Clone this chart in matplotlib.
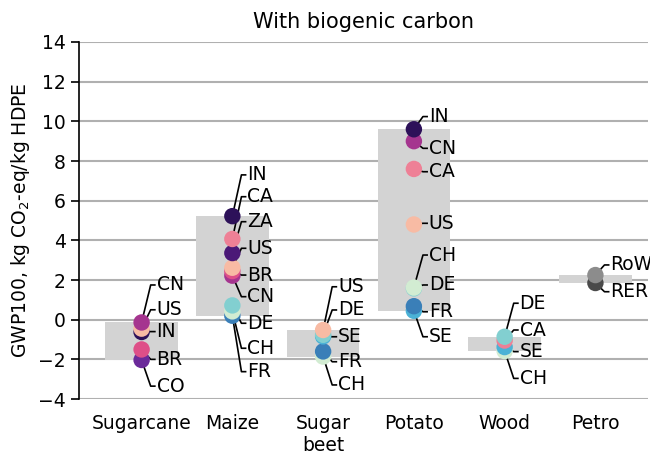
import matplotlib
matplotlib.use("Agg")
import matplotlib.pyplot as plt
import numpy as np

plt.rcParams['font.family'] = ['DejaVu Sans']

# ---- data ----
categories = ["Sugarcane", "Maize", "Sugar\nbeet", "Potato", "Wood", "Petro"]

sugarcane_countries = ["CN", "US", "IN", "BR", "CO"]
sugarcane_values = [-0.14, -0.45, -0.62, -1.50, -2.03]

maize_countries = ["IN", "CA", "ZA", "US", "BR", "CN", "DE", "CH", "FR"]
maize_values = [5.22, 4.07, 3.36, 2.62, 2.45, 2.22, 0.72, 0.42, 0.20]

sugarbeet_countries = ["US", "DE", "SE", "FR", "CH"]
sugarbeet_values = [-0.52, -0.76, -0.84, -1.60, -1.86]

potato_countries = ["IN", "CN", "CA", "US", "CH", "DE", "FR", "SE"]
potato_values = [9.60, 9.00, 7.60, 4.80, 1.62, 1.58, 0.68, 0.45]

wood_countries = ["DE", "CA", "SE", "CH"]
wood_values = [-0.86, -1.05, -1.38, -1.58]

petro_countries = ["RoW", "RER"]
petro_values = [2.25, 1.85]

# ---- layout of labels (text y positions, data units) ----
label_y = [
    [1.75, 0.5, -0.6, -2.0, -3.35],
    [7.3, 6.2, 4.94, 3.6, 2.25, 1.16, -0.18, -1.44, -2.62],
    [1.66, 0.49, -0.86, -2.12, -3.29],
    [10.24, 8.64, 7.46, 4.86, 3.26, 1.75, 0.4, -0.86],
    [0.83, -0.52, -1.61, -2.96],
    [2.76, 1.41],
]

country_colors = {
    "IN": "#2d1159", "ZA": "#4b1877", "CO": "#6b2a9a", "CN": "#a5358f",
    "BR": "#de4f88", "CA": "#ee8096", "US": "#f8bba4", "DE": "#82cfd0",
    "CH": "#d2ecd2", "SE": "#4bb2d6", "FR": "#3a7fb8",
    "RoW": "#8c8c8c", "RER": "#4a4a4a",
}

groups = [
    (sugarcane_countries, sugarcane_values),
    (maize_countries, maize_values),
    (sugarbeet_countries, sugarbeet_values),
    (potato_countries, potato_values),
    (wood_countries, wood_values),
    (petro_countries, petro_values),
]

fig = plt.figure(figsize=(6.5, 4.55), dpi=100)
ax = fig.add_axes([0.1215, 0.123, 0.8755, 0.7847])

x = np.arange(len(categories))
for i, (cs, vs) in enumerate(groups):
    lo, hi = min(vs), max(vs)
    ax.bar(x[i], hi - lo, bottom=lo, width=0.8, color="#d3d3d3", zorder=2)
    order = np.argsort(vs)
    for rank, j in enumerate(order):
        ax.scatter(x[i], vs[j], s=140, color=country_colors[cs[j]],
                   edgecolors="none", zorder=5 + rank * 0.01)
    for j, c in enumerate(cs):
        ly = label_y[i][j]
        ax.plot([x[i], x[i] + 0.1, x[i] + 0.155], [vs[j], ly, ly],
                color="black", lw=1.2, zorder=4, solid_capstyle="butt",
                solid_joinstyle="round")
        ax.text(x[i] + 0.165, ly, c, ha="left", va="center", fontsize=13.5,
                zorder=6)

ax.set_xlim(-0.69, 5.58)
ax.set_ylim(-4, 14)
ax.set_yticks(np.arange(-4, 15, 2))
ax.set_xticks(x)
ax.set_xticklabels(categories, fontsize=13.5)
ax.tick_params(axis="x", length=0, pad=11)
ax.tick_params(axis="y", labelsize=13.5, length=6, width=1.2)
ax.yaxis.grid(True, color="#b0b0b0", lw=1.5, zorder=0)
ax.set_axisbelow(True)
for s in ["top", "right", "bottom"]:
    ax.spines[s].set_visible(False)
ax.spines["left"].set_linewidth(1.2)
ax.set_ylabel("GWP100, kg CO$_2$-eq/kg HDPE", fontsize=13.5)
ax.set_title("With biogenic carbon", fontsize=15, pad=10)

fig.savefig("out.png", dpi=100)
